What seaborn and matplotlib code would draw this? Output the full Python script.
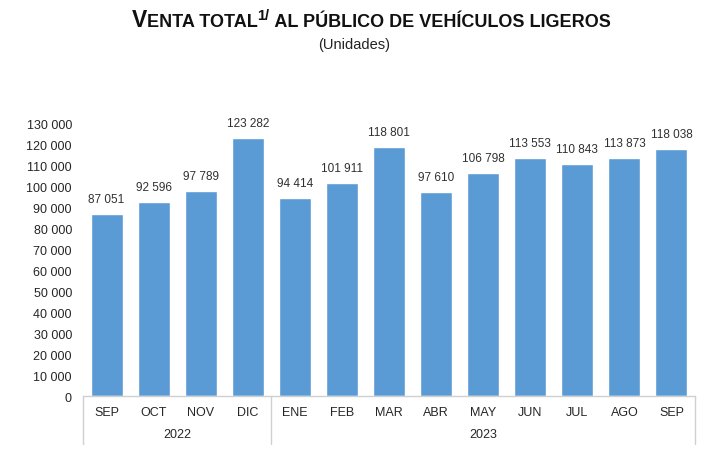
import matplotlib
matplotlib.use("Agg")
import matplotlib.pyplot as plt
import matplotlib.transforms as mtrans
import seaborn as sns
import pandas as pd

months = ["SEP", "OCT", "NOV", "DIC", "ENE", "FEB", "MAR", "ABR", "MAY", "JUN", "JUL", "AGO", "SEP"]
values = [87051, 92596, 97789, 123282, 94414, 101911, 118801, 97610, 106798, 113553, 110843, 113873, 118038]
years = ["2022", "2023"]
year_counts = [4, 9]
value_labels = ["87 051", "92 596", "97 789", "123 282", "94 414", "101 911", "118 801",
                "97 610", "106 798", "113 553", "110 843", "113 873", "118 038"]

sns.set_style("white")
plt.rcParams['font.family'] = ['Liberation Sans Narrow', 'Liberation Sans', 'DejaVu Sans']

fig = plt.figure(figsize=(7.09, 4.64), dpi=100)
ax = fig.add_axes([83/709, 1-397/464, (695-83)/709, (397-125)/464])

df = pd.DataFrame({"pos": list(range(len(values))), "v": values})
sns.barplot(data=df, x="pos", y="v", color="#5B9BD5", saturation=1, width=0.68, ax=ax)

ax.set_xlim(-0.5, len(values) - 0.5)
ax.set_ylim(0, 130000)
ax.set_yticks(range(0, 130001, 10000))
ax.set_yticklabels(["0" if t == 0 else f"{t//1000} 000" for t in range(0, 130001, 10000)],
                   fontsize=9, color="#262626")
ax.set_xticks(range(len(months)))
ax.set_xticklabels(months, fontsize=9, color="#262626")
ax.tick_params(axis="y", length=0, pad=8)
ax.tick_params(axis="x", length=0, pad=7)
ax.set_xlabel("")
ax.set_ylabel("")
for s in ["top", "right", "left"]:
    ax.spines[s].set_visible(False)
ax.spines["bottom"].set_color("#d0d0d0")
ax.spines["bottom"].set_linewidth(1)

for i, (v, lab) in enumerate(zip(values, value_labels)):
    ax.text(i, v + 4300, lab, ha="center", va="bottom", fontsize=8.5, color="#303030")

# year grouping
trans = mtrans.blended_transform_factory(ax.transData, ax.transAxes)
bounds = [-0.5]
for c in year_counts:
    bounds.append(bounds[-1] + c)
for b in bounds:
    ax.plot([b, b], [0, -48/272], transform=trans, color="#d0d0d0", lw=1, clip_on=False)
for y, a, b in zip(years, bounds[:-1], bounds[1:]):
    ax.text((a + b) / 2, -38/272, y, transform=trans, ha="center", va="center",
            fontsize=9, color="#262626")

# title with small caps, composed piecewise
fam = ["Liberation Sans", "DejaVu Sans"]
pieces = [("V", 16.5, 0), ("ENTA TOTAL", 13, 0), ("1/", 10.5, 7),
          (" AL PÚBLICO DE VEHÍCULOS LIGEROS", 13, 0)]
baseline = 464 - 27
fig.canvas.draw()
renderer = fig.canvas.get_renderer()
texts = []
for s, fs, dy in pieces:
    t = fig.text(0, 0, s, fontsize=fs, fontweight="bold", color="#111111", family=fam,
                 ha="left", va="baseline", transform=None)
    texts.append((t, dy))
widths = [t.get_window_extent(renderer).width for t, _ in texts]
total = sum(widths)
x = 371 - total / 2
for (t, dy), w in zip(texts, widths):
    t.set_position((x, baseline + dy))
    x += w

fig.text(0.5, 1 - 45/464, "(Unidades)", ha="center", va="center", fontsize=10.5,
         color="#222222", family=fam)

fig.savefig("out.png", dpi=100)
